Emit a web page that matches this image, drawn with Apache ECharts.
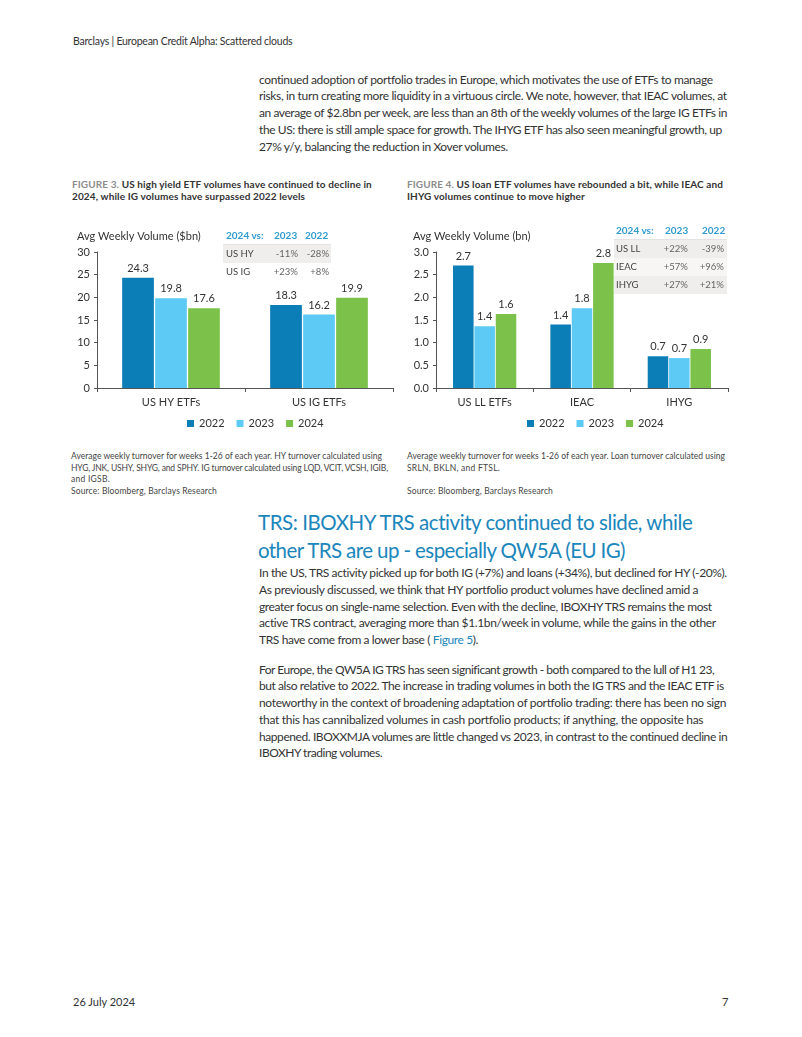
<!DOCTYPE html>
<html><head><meta charset="utf-8">
<script src="https://cdn.jsdelivr.net/npm/echarts@6/dist/echarts.min.js"></script>
<style>
html,body{margin:0;padding:0;background:#fff;}
body{width:802px;height:1037px;position:relative;overflow:hidden;font-family:Lato,"Noto Sans",sans-serif;color:#333;}
.abs{position:absolute;white-space:nowrap;}
.ln{display:block;white-space:nowrap;}
.p{font-size:12px;line-height:16.8px;color:#333;}
.ft{font-size:10px;line-height:11.7px;font-weight:bold;color:#333;}
.ft .fg{color:#8c8c8c;}
.note{font-size:8.5px;line-height:11.7px;color:#444;}
.h2{font-size:20.5px;line-height:28px;color:#1b86bb;}
.tbl{position:absolute;font-size:9.5px;white-space:nowrap;}
.tbl div{white-space:nowrap;}
.tbl .hd{position:absolute;color:#2f9bd0;font-weight:bold;font-size:10px;}
.tbl .row{position:absolute;}
.tbl .lab{position:absolute;color:#444;}
.tbl .val{position:absolute;color:#666;text-align:right;}
a{color:#1b86bb;text-decoration:none;}
</style></head>
<body>
<div class="abs" style="left:73px;top:35px;font-size:10.5px;color:#333;"><span class="ln" data-r="292">Barclays | European Credit Alpha: Scattered clouds</span></div>

<div class="abs p" style="left:259px;top:71.5px;">
<span class="ln" data-r="713">continued adoption of portfolio trades in Europe, which motivates the use of ETFs to manage</span>
<span class="ln" data-r="727">risks, in turn creating more liquidity in a virtuous circle. We note, however, that IEAC volumes, at</span>
<span class="ln" data-r="727">an average of $2.8bn per week, are less than an 8th of the weekly volumes of the large IG ETFs in</span>
<span class="ln" data-r="722">the US: there is still ample space for growth. The IHYG ETF has also seen meaningful growth, up</span>
<span class="ln" data-r="508">27% y/y, balancing the reduction in Xover volumes.</span>
</div>

<div class="abs ft" style="left:72px;top:179px;">
<span class="ln" data-r="372"><span class="fg">FIGURE 3.</span> US high yield ETF volumes have continued to decline in</span>
<span class="ln" data-r="305">2024, while IG volumes have surpassed 2022 levels</span>
</div>
<div class="abs ft" style="left:407px;top:179px;">
<span class="ln" data-r="723"><span class="fg">FIGURE 4.</span> US loan ETF volumes have rebounded a bit, while IEAC and</span>
<span class="ln" data-r="585">IHYG volumes continue to move higher</span>
</div>

<div id="c1" class="abs" style="left:60px;top:220px;width:340px;height:210px;"></div>
<div id="c2" class="abs" style="left:400px;top:220px;width:340px;height:210px;"></div>
<div id="t1"></div>
<div id="t2"></div>

<div class="abs note" style="left:71px;top:451px;">
<span class="ln" data-r="382">Average weekly turnover for weeks 1-26 of each year. HY turnover calculated using</span>
<span class="ln" data-r="388">HYG, JNK, USHY, SHYG, and SPHY. IG turnover calculated using LQD, VCIT, VCSH, IGIB,</span>
<span class="ln" data-r="110">and IGSB.</span>
<span class="ln" data-r="217">Source: Bloomberg, Barclays Research</span>
</div>
<div class="abs note" style="left:407px;top:451px;">
<span class="ln" data-r="725">Average weekly turnover for weeks 1-26 of each year. Loan turnover calculated using</span>
<span class="ln" data-r="500">SRLN, BKLN, and FTSL.</span>
<span class="ln">&nbsp;</span>
<span class="ln" data-r="553">Source: Bloomberg, Barclays Research</span>
</div>

<div class="abs h2" style="left:258px;top:508px;">
<span class="ln" data-r="693">TRS: IBOXHY TRS activity continued to slide, while</span>
<span class="ln" data-r="625">other TRS are up - especially QW5A (EU IG)</span>
</div>

<div class="abs p" style="left:259px;top:565px;">
<span class="ln" data-r="727">In the US, TRS activity picked up for both IG (+7%) and loans (+34%), but declined for HY (-20%).</span>
<span class="ln" data-r="698">As previously discussed, we think that HY portfolio product volumes have declined amid a</span>
<span class="ln" data-r="712">greater focus on single-name selection. Even with the decline, IBOXHY TRS remains the most</span>
<span class="ln" data-r="716">active TRS contract, averaging more than $1.1bn/week in volume, while the gains in the other</span>
<span class="ln" data-r="478">TRS have come from a lower base ( <a>Figure 5</a>).</span>
</div>
<div class="abs p" style="left:259px;top:661.5px;">
<span class="ln" data-r="714">For Europe, the QW5A IG TRS has seen significant growth - both compared to the lull of H1 23,</span>
<span class="ln" data-r="724">but also relative to 2022. The increase in trading volumes in both the IG TRS and the IEAC ETF is</span>
<span class="ln" data-r="726">noteworthy in the context of broadening adaptation of portfolio trading: there has been no sign</span>
<span class="ln" data-r="703">that this has cannibalized volumes in cash portfolio products; if anything, the opposite has</span>
<span class="ln" data-r="727">happened. IBOXXMJA volumes are little changed vs 2023, in contrast to the continued decline in</span>
<span class="ln" data-r="382">IBOXHY trading volumes.</span>
</div>

<div class="abs" style="left:73px;top:995px;font-size:11px;color:#333;">26 July 2024</div>
<div class="abs" style="left:722px;top:995px;font-size:11px;color:#333;">7</div>

<script>
// ---------- data ----------
const years = ['2022', '2023', '2024'];
const cats1 = ['US HY ETFs', 'US IG ETFs'];
const hy2022 = [24.3, 18.3];
const hy2023 = [19.8, 16.2];
const hy2024 = [17.6, 19.9];
const yTicks1 = [0, 30, 5];

const cats2 = ['US LL ETFs', 'IEAC', 'IHYG'];
const ll2022 = [2.7, 1.4, 0.7];
const ll2023 = [1.36, 1.76, 0.66];
const ll2024 = [1.63, 2.76, 0.86];
const yTicks2 = [0, 3, 0.5];

const tbl1Rows = ['US HY', 'US IG'];
const tbl1vs2023 = ['-11%', '+23%'];
const tbl1vs2022 = ['-28%', '+8%'];
const tbl2Rows = ['US LL', 'IEAC', 'IHYG'];
const tbl2vs2023 = ['+22%', '+57%', '+27%'];
const tbl2vs2022 = ['-39%', '+96%', '+21%'];
const tblHeader = ['2024 vs:', '2023', '2022'];

// ---------- fit text lines to the reference line lengths ----------
document.querySelectorAll('.ln[data-r]').forEach(el => {
  const target = parseFloat(el.dataset.r);
  el.style.display = 'inline-block';
  el.style.letterSpacing = '0px';
  const r = el.getBoundingClientRect();
  const n = el.textContent.length;
  const ls = (target - r.right) / n;
  el.style.letterSpacing = Math.max(-1.2, Math.min(1.2, ls)).toFixed(3) + 'px';
  el.style.display = 'block';
});

// ---------- charts ----------
const FONT = 'Lato, "Noto Sans", sans-serif';
const colors = ['#0b7db7', '#5ccaf4', '#7cc24a'];

function makeOption(title, cats, s, yt, grid, digits, gapCat) {
  return {
    animation: false,
    color: colors,
    textStyle: { fontFamily: FONT },
    title: { text: title, left: grid.tl, top: 6, textStyle: { fontFamily: FONT, fontSize: 11, fontWeight: 'normal', color: '#333' } },
    legend: { data: years, left: 122, top: 193, icon: 'rect', itemWidth: 7, itemHeight: 7, itemGap: 12,
      textStyle: { fontSize: 11, color: '#333', fontFamily: FONT } },
    grid: { left: grid.l, right: grid.r, top: 32, bottom: 42 },
    xAxis: { type: 'category', data: cats,
      axisLine: { lineStyle: { color: '#555', width: 1 } },
      axisTick: { show: true, length: 4, lineStyle: { color: '#555' } },
      axisLabel: { fontSize: 11, color: '#333', margin: 9, fontFamily: FONT } },
    yAxis: { type: 'value', min: yt[0], max: yt[1], interval: yt[2],
      splitLine: { show: false },
      axisLine: { show: true, lineStyle: { color: '#555', width: 1 } },
      axisTick: { show: true, length: 3, lineStyle: { color: '#555' } },
      axisLabel: { fontSize: 11, color: '#333', margin: 7, fontFamily: FONT,
        formatter: v => v.toFixed(digits) } },
    series: s.map((d, i) => ({
      name: years[i], type: 'bar', data: d, barGap: '4%', barCategoryGap: gapCat,
      label: { show: true, position: 'top', distance: 4, fontSize: 11, color: '#333', fontFamily: FONT,
        formatter: p => p.value.toFixed(1) }
    }))
  };
}

const c1 = echarts.init(document.getElementById('c1'));
c1.setOption(makeOption('Avg Weekly Volume ($bn)', cats1, [hy2022, hy2023, hy2024], yTicks1, { l: 37, r: 7, tl: 12 }, 0, '34%'));
const c2 = echarts.init(document.getElementById('c2'));
c2.setOption(makeOption('Avg Weekly Volume (bn)', cats2, [ll2022, ll2023, ll2024], yTicks2, { l: 36, r: 12, tl: 8 }, 1, '35%'));

// ---------- tables ----------
function makeTable(el, cfg, rows, a, b) {
  el.className = 'tbl';
  el.style.left = cfg.left + 'px';
  el.style.top = cfg.top + 'px';
  let h = '';
  h += `<div class="hd" style="left:${cfg.hx[0]}px;top:0px;">${tblHeader[0]}</div>`;
  h += `<div class="hd" style="left:${cfg.hx[1]}px;top:0px;">${tblHeader[1]}</div>`;
  h += `<div class="hd" style="left:${cfg.hx[2]}px;top:0px;">${tblHeader[2]}</div>`;
  h += `<div style="position:absolute;left:0;top:${cfg.r0 - 1}px;width:${cfg.w}px;height:1px;background:#e2e2e2;"></div>`;
  rows.forEach((r, i) => {
    const top = cfg.r0 + i * cfg.rh;
    const bg = i % 2 === 0 ? '#efeeec' : cfg.alt;
    h += `<div class="row" style="left:0;top:${top}px;width:${cfg.w}px;height:${cfg.rh}px;background:${bg};"></div>`;
    h += `<div class="lab" style="left:${cfg.lx}px;top:${top + cfg.ty}px;">${r}</div>`;
    h += `<div class="val" style="left:${cfg.v1 - 40}px;width:40px;top:${top + cfg.ty}px;">${a[i]}</div>`;
    h += `<div class="val" style="left:${cfg.v2 - 40}px;width:40px;top:${top + cfg.ty}px;">${b[i]}</div>`;
  });
  el.innerHTML = h;
}
makeTable(document.getElementById('t1'), { left: 223, top: 229, hx: [3, 51, 82], r0: 16, rh: 18, w: 108, lx: 3, v1: 75, v2: 106, ty: 3, alt: '#ffffff' },
  tbl1Rows, tbl1vs2023, tbl1vs2022);
makeTable(document.getElementById('t2'), { left: 614, top: 224, hx: [2, 51, 88], r0: 15.5, rh: 18, w: 113, lx: 2, v1: 74, v2: 110, ty: 3, alt: '#f7f6f5' },
  tbl2Rows, tbl2vs2023, tbl2vs2022);
</script>
</body></html>
